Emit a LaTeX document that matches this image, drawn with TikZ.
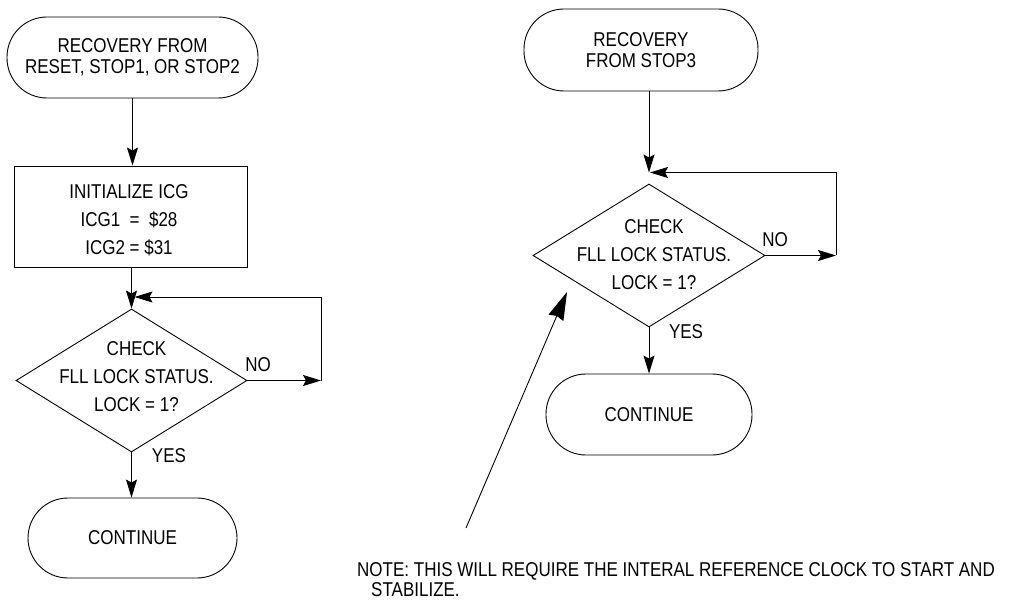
\documentclass[tikz,border=0pt]{standalone}
\usepackage{fontspec}
\setmainfont{Liberation Sans}[FakeStretch=0.85]
\usetikzlibrary{arrows.meta,shapes.geometric}
\begin{document}
\begin{tikzpicture}[x=1pt,y=-1pt,
  every node/.style={font=\fontsize{20}{21}\selectfont, align=center, inner sep=0pt},
  term/.style={draw, line width=0.9pt, rounded corners=40pt},
  procbox/.style={draw, line width=0.9pt},
  decis/.style={draw, line width=0.9pt, diamond},
  multi/.style={font=\fontsize{20}{28}\selectfont},
  arr/.style={line width=0.9pt, -{Stealth[length=18pt,width=11pt,inset=3pt]}},
  bigarr/.style={line width=0.9pt, -{Stealth[length=28pt,width=16pt,inset=2pt]}}]
\useasboundingbox (0,0) rectangle (1011,601);

% left column
\node[term, minimum width=251pt, minimum height=81pt] (t1) at (132.5,57.5) {RECOVERY FROM\\RESET, STOP1, OR STOP2};
\node[procbox, minimum width=233pt, minimum height=101pt] (r1) at (130.5,216.5) {};
\node[multi] (r1t) at (129,220) {INITIALIZE ICG\\ICG1\ \ =\ \ \$28\\ICG2 = \$31};
\node[decis, minimum width=231pt, minimum height=143pt] (d1) at (131.5,380.5) {};
\node[multi] (d1t) at (136.5,377) {CHECK\\FLL LOCK STATUS.\\LOCK = 1?};
\node[term, minimum width=209pt, minimum height=80pt] (c1) at (132.5,538) {CONTINUE};
\node (no1) at (258,365) {NO};
\node (yes1) at (169,456) {YES};

% right column
\node[term, minimum width=234pt, minimum height=82pt] (t2) at (641,50) {RECOVERY\\FROM STOP3};
\node[decis, minimum width=232pt, minimum height=143pt] (d2) at (649,255.5) {};
\node[multi] (d2t) at (654,255) {CHECK\\FLL LOCK STATUS.\\LOCK = 1?};
\node[term, minimum width=206pt, minimum height=81pt] (c2) at (649,414.5) {CONTINUE};
\node (no2) at (775,240) {NO};
\node (yes2) at (686,332) {YES};

% note
\node[anchor=base west] (note1) at (357,576) {NOTE: THIS WILL REQUIRE THE INTERAL REFERENCE CLOCK TO START AND};
\node[anchor=base west] (note2) at (371,596) {STABILIZE.};

% connectors left
\coordinate (l1b) at (321,380.5);
\coordinate (l1t) at (321,297);
\draw[arr] (t1.south) -- (t1.south |- r1.north);
\draw[arr] (r1.south -| d1.north) -- (d1.north);
\draw[arr] (d1.south) -- (d1.south |- c1.north);
\draw[arr] (d1.east) -- (l1b);
\draw[arr, shorten >=3pt] (l1b) -- (l1t) -- (l1t -| d1.north);

% connectors right
\coordinate (l2b) at (836,255.5);
\coordinate (l2t) at (836,172.5);
\draw[arr] (t2.south -| d2.north) -- (l2t -| d2.north);
\draw[arr] (d2.east) -- (l2b);
\draw[arr, shorten >=1pt] (l2b) -- (l2t) -- (l2t -| d2.north);
\draw[arr] (d2.south) -- (c2.north);

% note pointer
\coordinate (nb) at (466,528);
\coordinate (nt) at (567,292);
\draw[bigarr] (nb) -- (nt);
\end{tikzpicture}
\end{document}
